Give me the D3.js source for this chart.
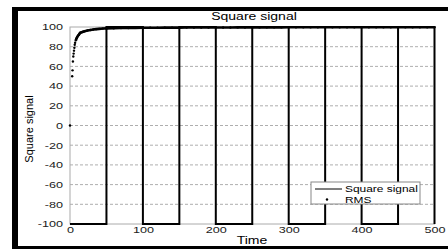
<!DOCTYPE html>
<html>
<head>
<meta charset="utf-8">
<script src="https://cdn.jsdelivr.net/npm/d3@7"></script>
<style>
  body { margin: 0; background: #fff; }
  svg { display: block; font-family: Arial, "Liberation Sans", sans-serif; }
</style>
</head>
<body>
<svg width="448" height="249"></svg>
<script>
// ---- Data
const signalTime = [0, 50, 100, 150, 200, 250, 300, 350, 400, 450, 500];
const signalLevel = [-100, 100, -100, 100, -100, 100, -100, 100, -100, 100, -100];

const rmsTime = [0, 3, 3.5, 4, 4.5, 5, 5.5, 6, 6.5, 7, 8, 9, 10, 11, 12, 13, 14, 16, 18, 20,
  24, 28, 32, 36, 40, 45, 50, 60, 70, 80, 90, 100, 110, 120, 130, 140, 150, 160, 170, 180,
  190, 200, 210, 220, 230, 240, 250, 260, 270, 280, 290, 300, 310, 320, 330, 340, 350, 360,
  370, 380, 390, 400, 410, 420, 430, 440, 450, 460, 470, 480, 490, 500];
const rmsValue = [0, 50, 56, 65, 70, 73, 76, 79, 82, 84, 86.5, 88.5, 90, 91.2, 92, 93.2, 94.1, 94.7, 95.2, 95.7,
  96.4, 97, 97.5, 97.8, 98.1, 98.4, 98.6, 98.8, 98.95, 99.05, 99.15, 99.2, 99.25, 99.3, 99.35, 99.4, 99.4, 99.45, 99.45, 99.5,
  99.5, 99.5, 99.55, 99.55, 99.6, 99.6, 99.6, 99.6, 99.65, 99.65, 99.65, 99.7, 99.7, 99.7, 99.7, 99.7, 99.75, 99.75,
  99.75, 99.75, 99.75, 99.8, 99.8, 99.8, 99.8, 99.8, 99.8, 99.8, 99.8, 99.8, 99.8, 99.8];

const xTicks = [0, 100, 200, 300, 400, 500];
const yTicks = [-100, -80, -60, -40, -20, 0, 20, 40, 60, 80, 100];

const svg = d3.select('svg');
const stretch = 1.4; // picture is wider than tall

// ---- Frame
svg.append('rect').attr('x', 12).attr('y', 7).attr('width', 436).attr('height', 242).attr('fill', '#000');
svg.append('rect').attr('x', 18).attr('y', 11).attr('width', 430).attr('height', 235).attr('fill', '#fff');

// ---- Scales
const mapX = d3.scaleLinear().domain([0, 500]).range([70, 434.5]);
const mapY = d3.scaleLinear().domain([-100, 100]).range([224, 27]);

// ---- Grid
svg.append('g')
  .selectAll('line')
  .data(yTicks.filter(d => d > -100 && d < 100))
  .join('line')
  .attr('x1', mapX(0)).attr('x2', mapX(500))
  .attr('y1', d => mapY(d)).attr('y2', d => mapY(d))
  .attr('stroke', '#999')
  .attr('stroke-width', 0.8)
  .attr('stroke-dasharray', '3,2');

// axes box
svg.append('rect')
  .attr('x', mapX(0)).attr('y', mapY(100))
  .attr('width', mapX(500) - mapX(0)).attr('height', mapY(-100) - mapY(100))
  .attr('fill', 'none').attr('stroke', '#aaa').attr('stroke-width', 1);

// ---- Axes
const yAxis = d3.axisLeft(mapY).tickValues(yTicks).tickSize(0).tickPadding(7).tickFormat(d => String(d));
const gY = svg.append('g').attr('transform', `translate(${mapX(0)},0)`).call(yAxis);
gY.select('.domain').remove();
gY.selectAll('text').attr('font-size', 9).attr('fill', '#222').attr('font-family', null);

const xAxis = d3.axisBottom(mapX).tickValues(xTicks).tickSize(0).tickPadding(3).tickFormat(d => String(d));
const gX = svg.append('g').attr('transform', `translate(0,${mapY(-100)})`).call(xAxis);
gX.select('.domain').remove();
gX.selectAll('text').attr('font-size', 9).attr('fill', '#222').attr('font-family', null);

// ---- Square signal
const line = d3.line()
  .x(d => mapX(d[0]))
  .y(d => mapY(d[1]))
  .curve(d3.curveStepAfter);

svg.append('path')
  .datum(signalTime.map((t, i) => [t, signalLevel[i]]))
  .attr('d', line)
  .attr('fill', 'none')
  .attr('stroke', '#000')
  .attr('stroke-width', 2);

// ---- RMS (dense dots)
const rmsData = rmsTime.map((t, i) => [t, rmsValue[i]]);
svg.append('path')
  .datum(rmsData.filter(d => d[0] >= 8))
  .attr('d', d3.line().x(d => mapX(d[0])).y(d => mapY(d[1])))
  .attr('fill', 'none')
  .attr('stroke', '#000')
  .attr('stroke-width', 2.6);

svg.append('g')
  .selectAll('circle')
  .data(rmsData)
  .join('circle')
  .attr('cx', d => mapX(d[0]))
  .attr('cy', d => mapY(d[1]))
  .attr('r', 1.2)
  .attr('fill', '#000');

// ---- Labels
svg.append('text')
  .attr('x', 254).attr('y', 20)
  .attr('text-anchor', 'middle')
  .attr('font-size', 10)
  .attr('class', 'stretch')
  .text('Square signal');

svg.append('text')
  .attr('x', 252).attr('y', 244)
  .attr('text-anchor', 'middle')
  .attr('font-size', 10)
  .attr('class', 'stretch')
  .text('Time');

svg.append('text')
  .attr('transform', 'translate(33,129) rotate(-90)')
  .attr('text-anchor', 'middle')
  .attr('font-size', 11)
  .text('Square signal');

// ---- Legend
const legend = svg.append('g');
legend.append('rect')
  .attr('x', 311).attr('y', 182).attr('width', 109).attr('height', 22)
  .attr('fill', '#fff').attr('stroke', '#888').attr('stroke-width', 1);
legend.append('line')
  .attr('x1', 315).attr('x2', 342).attr('y1', 189).attr('y2', 189)
  .attr('stroke', '#000').attr('stroke-width', 1);
legend.append('circle').attr('cx', 327).attr('cy', 199.5).attr('r', 1.2).attr('fill', '#000');
legend.append('text').attr('x', 345).attr('y', 192).attr('font-size', 8.5).attr('class', 'stretch').text('Square signal');
legend.append('text').attr('x', 345).attr('y', 203).attr('font-size', 8.5).attr('class', 'stretch').text('RMS');

// stretch horizontal texts to match the wide picture
svg.selectAll('.stretch, .tick text').each(function () {
  const len = this.getComputedTextLength();
  d3.select(this).attr('textLength', len * stretch).attr('lengthAdjust', 'spacingAndGlyphs');
});
</script>
</body>
</html>
